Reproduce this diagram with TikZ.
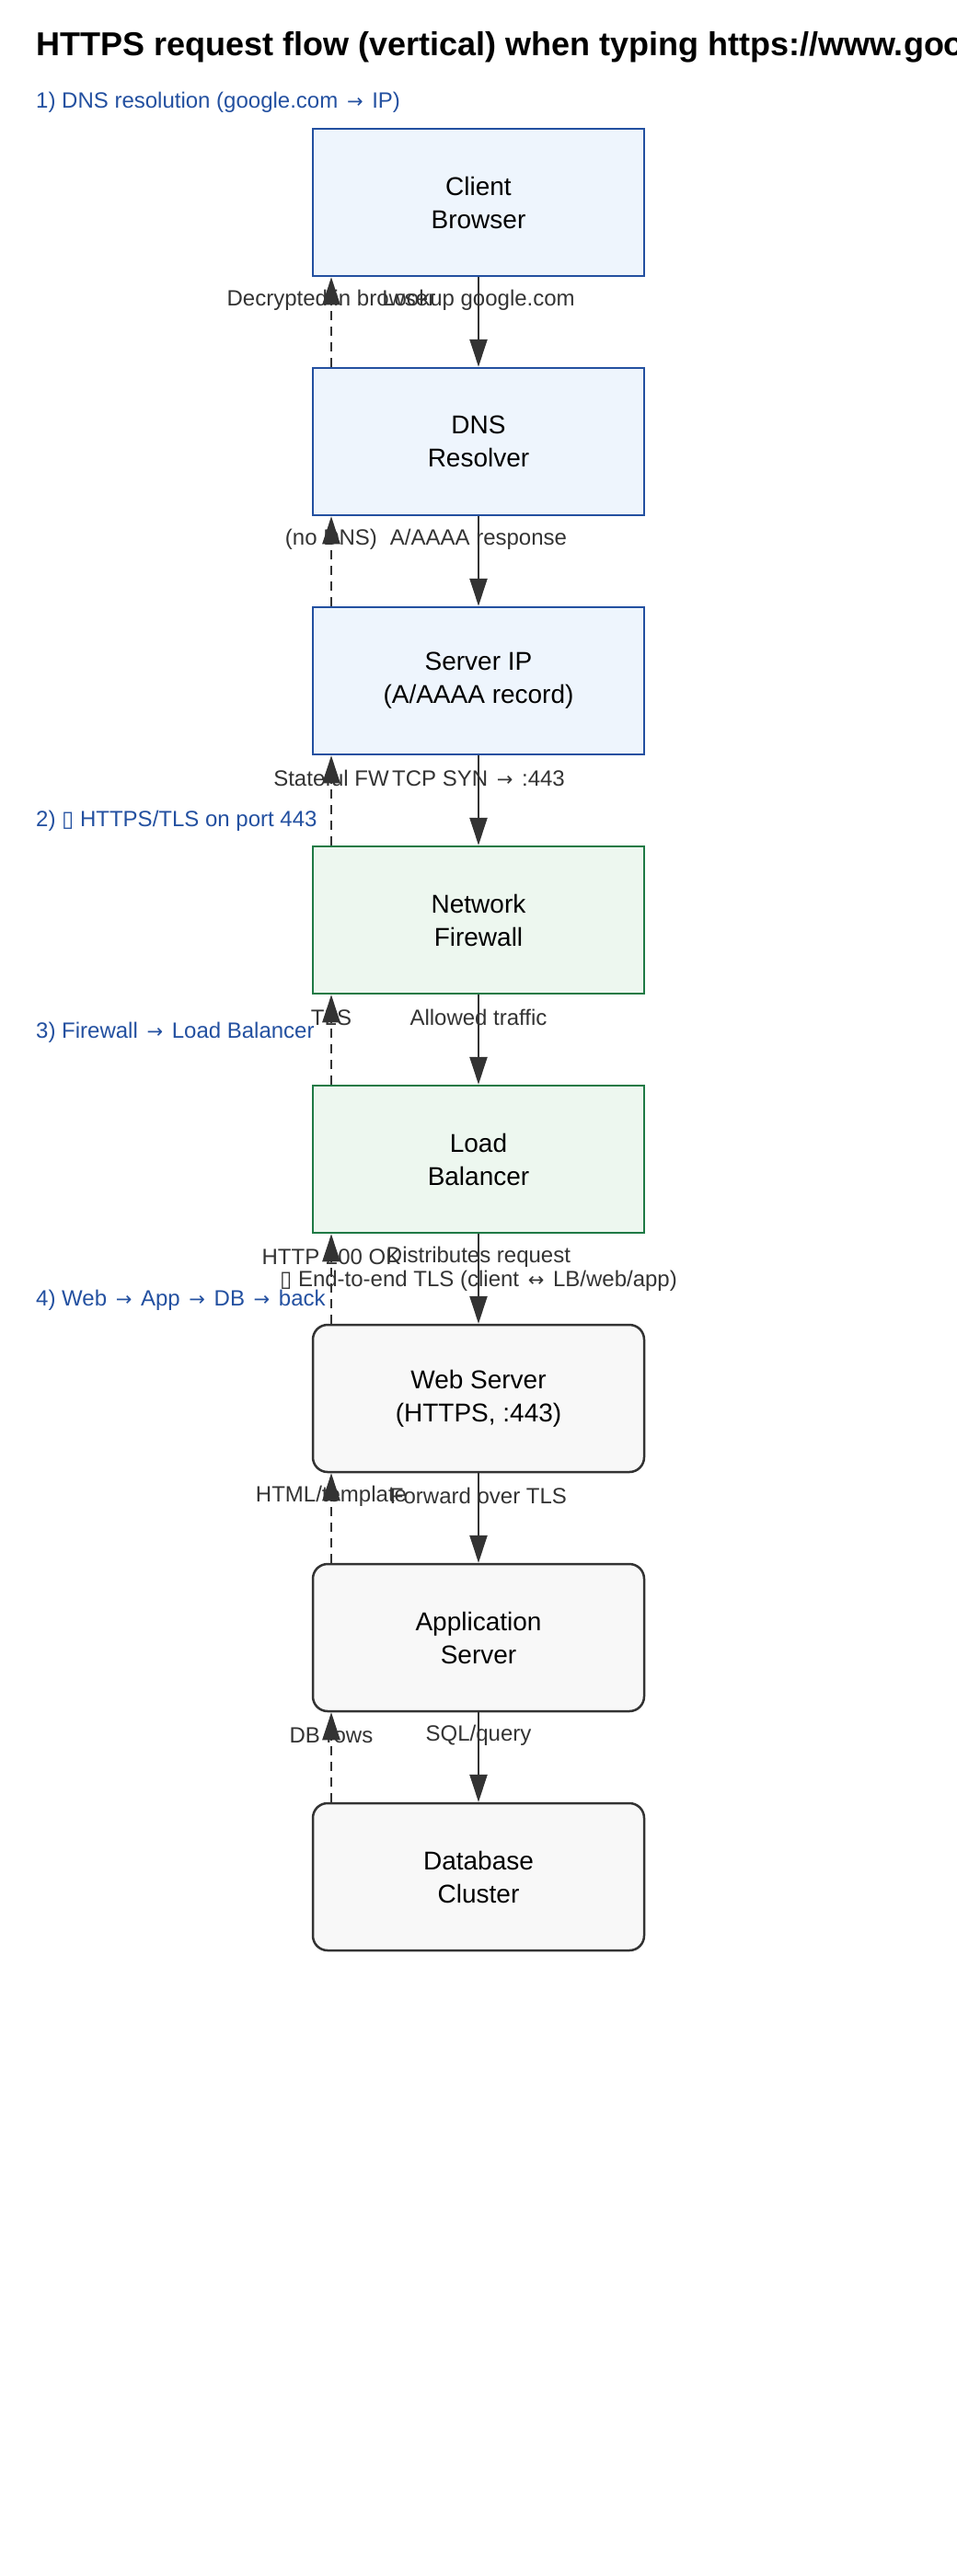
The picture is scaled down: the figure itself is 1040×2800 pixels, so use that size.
\documentclass[tikz,border=0pt]{standalone}
\usepackage{fontspec}
\setmainfont{Liberation Sans}
\newfontfamily\dejavu{DejaVu Sans}
\usetikzlibrary{shapes,arrows.meta,calc}
\usetikzlibrary{positioning}

\definecolor{blueline}{HTML}{2350A0}
\definecolor{bluefill}{HTML}{EEF5FD}
\definecolor{greenline}{HTML}{1F7A45}
\definecolor{greenfill}{HTML}{EDF7EF}
\definecolor{grayline}{HTML}{333333}
\definecolor{grayfill}{HTML}{F8F8F8}
\definecolor{phasetext}{HTML}{2350A0}
\definecolor{edgetext}{HTML}{333333}

\newcommand{\sra}{{\hspace{3pt}\dejavu\fontsize{21}{21}\selectfont →\hspace{3pt}}}
\newcommand{\slr}{{\hspace{3pt}\dejavu\fontsize{21}{21}\selectfont ↔\hspace{3pt}}}
\newcommand{\tofu}{{\dejavu ▯}}

\begin{document}
\begin{tikzpicture}[x=1pt, y=-1pt]
	\tikzset{bluebox/.style={rectangle, draw=blueline, fill=bluefill, line width=2.5pt, minimum width=360pt, minimum height=160pt, align=center, font=\fontsize{28}{36}\selectfont}};
	\tikzset{greenbox/.style={bluebox, draw=greenline, fill=greenfill}};
	\tikzset{graybox/.style={bluebox, draw=grayline, fill=grayfill, rounded corners=16pt}};
	\tikzset{title/.style={font=\fontsize{36}{43}\selectfont\bfseries, inner sep=0pt}};
	\tikzset{phase/.style={text=phasetext, font=\fontsize{24}{29}\selectfont, inner sep=0pt}};
	\tikzset{elabel/.style={text=edgetext, font=\fontsize{24}{29}\selectfont, inner sep=0pt}};
	\tikzset{flow/.style={draw=edgetext, line width=2.5pt, -{Triangle[length=30pt, width=19pt]}}};
	\tikzset{back/.style={flow, dash pattern=on 10pt off 7pt}};

	\useasboundingbox (0,0) rectangle (1040,2800);
	\clip (0,0) rectangle (1040,2800);

	% Place nodes
	\node [title, anchor=base west] (head) at (39, 60) {HTTPS request flow (vertical) when typing https://www.google.com};
	\node [phase, anchor=west] (p1) at (39, 111) {1) DNS resolution (google.com \sra{} IP)};

	\node [bluebox] (client) at (520, 220) {Client\\Browser};
	\node [bluebox] (dns) at (520, 480) {DNS\\Resolver};
	\draw [flow] (client) -- node[elabel, pos=0.254]{Lookup google.com} (dns);
	\draw [back] ([xshift=-160pt]dns.north) -- node[elabel, pos=0.746]{Decrypted in browser} ([xshift=-160pt]client.south);

	\node [bluebox] (ip) at (520, 740) {Server IP\\(A/AAAA record)};
	\draw [flow] (dns) -- node[elabel, pos=0.254]{A/AAAA response} (ip);
	\draw [back] ([xshift=-160pt]ip.north) -- node[elabel, pos=0.746]{(no DNS)} ([xshift=-160pt]dns.south);

	\node [phase, anchor=west] (p2) at (39, 892) {2) \tofu{} HTTPS/TLS on port 443};
	\node [greenbox] (fw) at (520, 1000) {Network\\Firewall};
	\draw [flow] (ip) -- node[elabel, pos=0.254]{TCP SYN \sra{} :443} (fw);
	\draw [back] ([xshift=-160pt]fw.north) -- node[elabel, pos=0.746]{Stateful FW} ([xshift=-160pt]ip.south);

	\node [phase, anchor=west] (p3) at (39, 1122) {3) Firewall \sra{} Load Balancer};
	\node [greenbox] (lb) at (520, 1260) {Load\\Balancer};
	\draw [flow] (fw) -- node[elabel, pos=0.254]{Allowed traffic} (lb);
	\draw [back] ([xshift=-160pt]lb.north) -- node[elabel, pos=0.746]{TLS} ([xshift=-160pt]fw.south);

	\node [phase, anchor=west] (p4) at (39, 1413) {4) Web \sra{} App \sra{} DB \sra{} back};
	\node [elabel] (e2e) at (520, 1392) {\tofu{} End-to-end TLS (client \slr{} LB/web/app)};
	\node [graybox] (web) at (520, 1520) {Web Server\\(HTTPS, :443)};
	\draw [flow] (lb) -- node[elabel, pos=0.254]{Distributes request} (web);
	\draw [back] ([xshift=-160pt]web.north) -- node[elabel, pos=0.746]{HTTP 200 OK} ([xshift=-160pt]lb.south);

	\node [graybox] (app) at (520, 1780) {Application\\Server};
	\draw [flow] (web) -- node[elabel, pos=0.254]{Forward over TLS} (app);
	\draw [back] ([xshift=-160pt]app.north) -- node[elabel, pos=0.746]{HTML/template} ([xshift=-160pt]web.south);

	\node [graybox] (db) at (520, 2040) {Database\\Cluster};
	\draw [flow] (app) -- node[elabel, pos=0.254]{SQL/query} (db);
	\draw [back] ([xshift=-160pt]db.north) -- node[elabel, pos=0.746]{DB rows} ([xshift=-160pt]app.south);

\end{tikzpicture}
\end{document}
